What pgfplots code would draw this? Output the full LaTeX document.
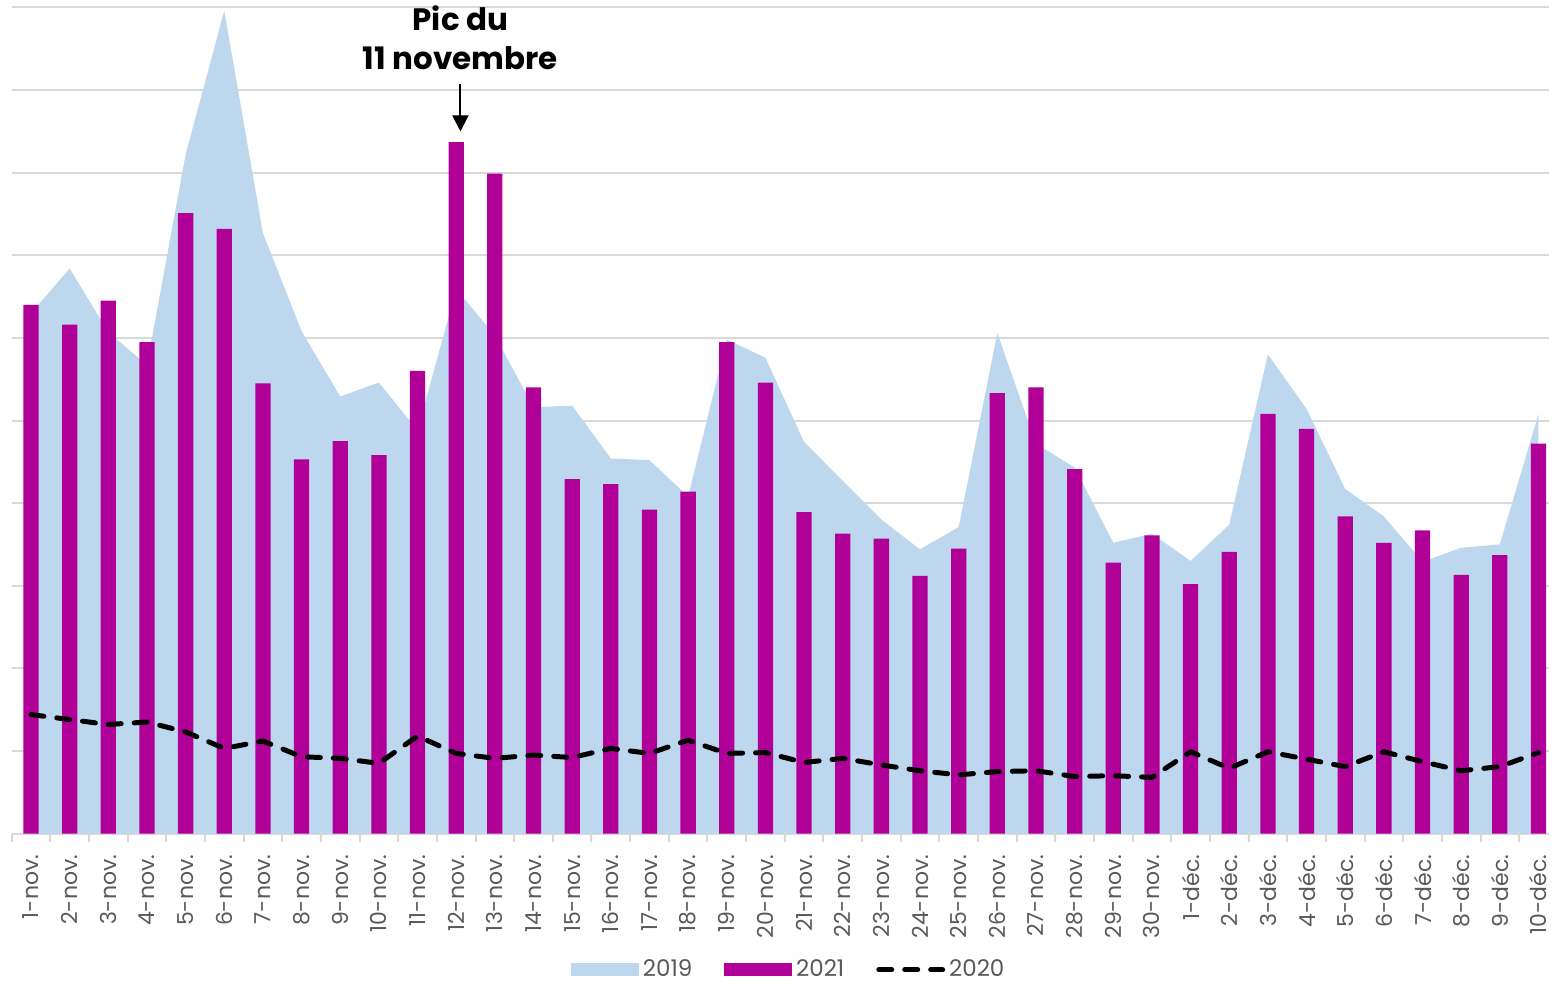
\documentclass[border=0pt]{standalone}
\usepackage{fontspec}
\setmainfont{Poppins}
\usepackage{pgfplots}
\pgfplotsset{compat=1.18}
\usepackage{pgfplotstable}
\usetikzlibrary{arrows.meta}
\definecolor{cA}{RGB}{189,215,238}
\definecolor{cB}{RGB}{176,0,152}
\definecolor{gridgray}{RGB}{217,217,217}
\definecolor{textgray}{RGB}{89,89,89}

\pgfplotstableread{
x y
0 6.30
1 6.84
2 6.07
3 5.67
4 8.22
5 9.96
6 7.27
7 6.08
8 5.29
9 5.46
10 4.88
11 6.59
12 6.03
13 5.16
14 5.18
15 4.54
16 4.52
17 4.08
18 5.98
19 5.76
20 4.74
21 4.27
22 3.80
23 3.44
24 3.71
25 6.06
26 4.72
27 4.43
28 3.52
29 3.63
30 3.30
31 3.74
32 5.80
33 5.14
34 4.17
35 3.84
36 3.29
37 3.46
38 3.50
39 5.08
}\tA

\pgfplotstableread{
x y
0 6.40
1 6.16
2 6.45
3 5.95
4 7.51
5 7.32
6 5.45
7 4.53
8 4.75
9 4.58
10 5.60
11 8.37
12 7.99
13 5.40
14 4.29
15 4.23
16 3.92
17 4.14
18 5.95
19 5.46
20 3.89
21 3.63
22 3.57
23 3.12
24 3.45
25 5.33
26 5.40
27 4.41
28 3.28
29 3.61
30 3.02
31 3.41
32 5.08
33 4.90
34 3.84
35 3.52
36 3.67
37 3.13
38 3.37
39 4.72
}\tB

\pgfplotstableread{
x y
0 1.44
1 1.38
2 1.32
3 1.35
4 1.23
5 1.03
6 1.12
7 0.93
8 0.91
9 0.85
10 1.18
11 0.97
12 0.91
13 0.95
14 0.92
15 1.03
16 0.97
17 1.13
18 0.97
19 0.98
20 0.86
21 0.91
22 0.83
23 0.76
24 0.71
25 0.75
26 0.76
27 0.69
28 0.70
29 0.68
30 0.99
31 0.79
32 0.99
33 0.90
34 0.81
35 0.99
36 0.87
37 0.76
38 0.81
39 0.98
}\tC

\begin{document}
\begin{tikzpicture}
\begin{axis}[
  scale only axis,
  width=770.15pt, height=413.75pt,
  xmin=-0.5, xmax=39.28,
  ymin=0, ymax=10,
  clip=false,
  axis line style={draw=none},
  ytick={0,1,...,10},
  yticklabels={},
  ymajorgrids,
  major grid style={draw=gridgray, line width=1pt},
  xtick={0,1,...,39},
  xticklabels={1-nov.,2-nov.,3-nov.,4-nov.,5-nov.,6-nov.,7-nov.,8-nov.,9-nov.,10-nov.,11-nov.,12-nov.,13-nov.,14-nov.,15-nov.,16-nov.,17-nov.,18-nov.,19-nov.,20-nov.,21-nov.,22-nov.,23-nov.,24-nov.,25-nov.,26-nov.,27-nov.,28-nov.,29-nov.,30-nov.,1-déc.,2-déc.,3-déc.,4-déc.,5-déc.,6-déc.,7-déc.,8-déc.,9-déc.,10-déc.},
  minor xtick={-0.5,0.5,...,39.5},
  major tick length=0pt,
  minor tick length=4pt,
  tick align=outside,
  xtick pos=bottom, ytick pos=left,
  minor tick style={draw=gridgray, line width=1pt},
  xticklabel style={rotate=90, anchor=east, inner sep=0pt, font=\fontsize{11}{13}\selectfont, text=textgray},
  xticklabel shift=10.5pt,
  legend style={at={(0.506,-0.165)}, anchor=center, draw=none, fill=none,
    font=\fontsize{11.5}{13}\selectfont, text=textgray,
    /tikz/every even column/.append style={column sep=14pt}},
  legend columns=3,
]
\addplot[fill=cA, draw=none,
  legend image code/.code={\fill[cA] (0pt,-3.25pt) rectangle (34pt,3.25pt);}]
  table[x=x,y=y] {\tA} \closedcycle;
\addlegendentry{2019}
\addplot[ybar, bar width=7.65pt, bar shift=0pt, fill=cB, draw=none,
  legend image code/.code={\fill[cB] (0pt,-3.25pt) rectangle (34pt,3.25pt);}]
  table[x=x,y=y] {\tB};
\addlegendentry{2021}
\addplot[black, line width=2.5pt, line cap=round, line join=round, dash pattern=on 6.5pt off 6.5pt,
  legend image code/.code={\draw (0pt,0pt) -- (32pt,0pt);}]
  table[x=x,y=y] {\tC};
\addlegendentry{2020}
\draw[line width=1pt, -{Triangle[length=8pt,width=8pt]}] (axis cs:11.11,9.07) -- (axis cs:11.11,8.50);
\node[align=center, font=\bfseries\fontsize{15.5}{19.5}\selectfont, text=black, inner sep=0pt] at (axis cs:11.11,9.63) {Pic du\\11 novembre};
\end{axis}
\pgfresetboundingbox
\path (-5.85pt,-76.5pt) rectangle (771.5pt,417.5pt);
\end{tikzpicture}
\end{document}
